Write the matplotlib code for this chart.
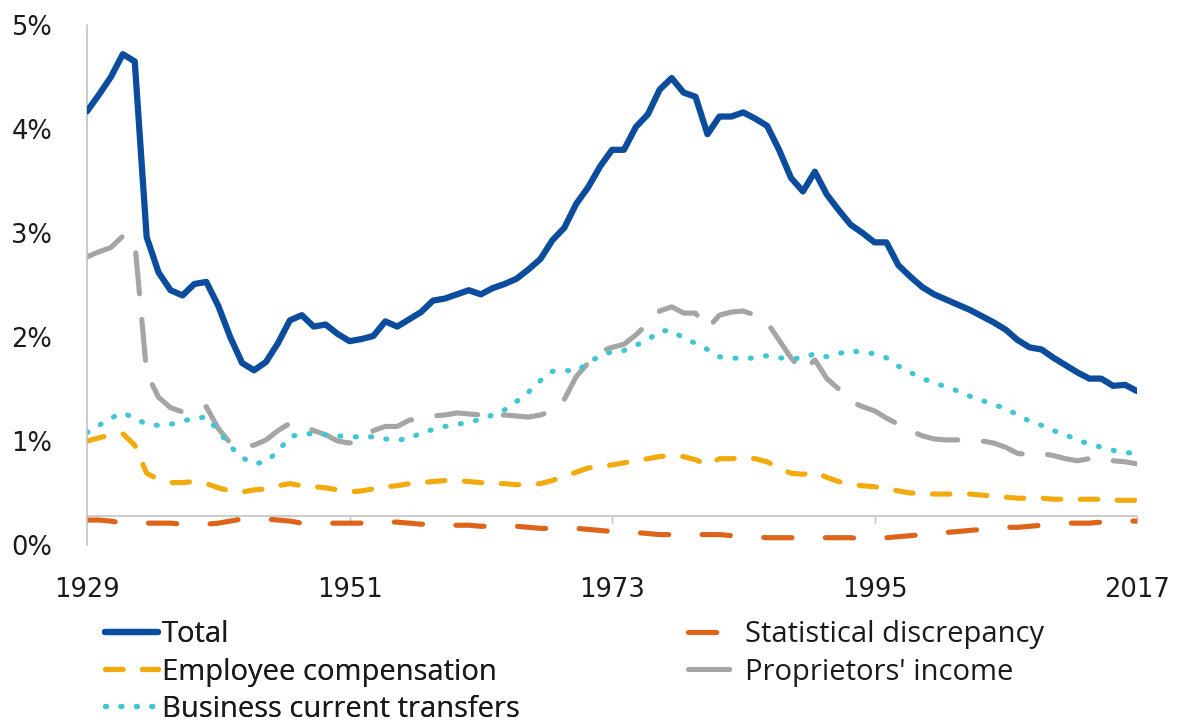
import matplotlib
matplotlib.use('Agg')
import matplotlib.pyplot as plt
from matplotlib.ticker import FuncFormatter

years = list(range(1929, 2018))

total = [4.17, 4.33, 4.50, 4.72, 4.65, 2.96, 2.62, 2.45, 2.40, 2.51,
         2.53, 2.30, 2.00, 1.75, 1.68, 1.76, 1.94, 2.16, 2.21, 2.10,
         2.12, 2.03, 1.96, 1.98, 2.01, 2.15, 2.10, 2.17, 2.24, 2.35,
         2.37, 2.41, 2.45, 2.41, 2.47, 2.51, 2.56, 2.65, 2.75, 2.93,
         3.05, 3.28, 3.44, 3.64, 3.80, 3.80, 4.02, 4.14, 4.38, 4.49,
         4.35, 4.31, 3.95, 4.12, 4.12, 4.16, 4.10, 4.03, 3.80, 3.53,
         3.40, 3.59, 3.37, 3.22, 3.08, 3.00, 2.91, 2.91, 2.69, 2.58,
         2.48, 2.41, 2.36, 2.31, 2.26, 2.20, 2.14, 2.07, 1.97, 1.90,
         1.88, 1.80, 1.73, 1.66, 1.60, 1.60, 1.53, 1.54, 1.48]

stat_disc = [0.24, 0.24, 0.23, 0.21, 0.21, 0.21, 0.21, 0.21, 0.20, 0.20,
             0.20, 0.21, 0.23, 0.25, 0.25, 0.25, 0.24, 0.23, 0.21, 0.21,
             0.21, 0.21, 0.21, 0.21, 0.21, 0.22, 0.22, 0.21, 0.20, 0.20,
             0.19, 0.19, 0.19, 0.18, 0.18, 0.18, 0.18, 0.17, 0.16, 0.16,
             0.16, 0.16, 0.15, 0.14, 0.13, 0.12, 0.12, 0.11, 0.10, 0.10,
             0.10, 0.10, 0.10, 0.10, 0.09, 0.08, 0.08, 0.07, 0.07, 0.07,
             0.07, 0.07, 0.07, 0.07, 0.07, 0.06, 0.06, 0.07, 0.08, 0.09,
             0.10, 0.11, 0.12, 0.13, 0.14, 0.15, 0.16, 0.17, 0.17, 0.18,
             0.19, 0.20, 0.21, 0.21, 0.21, 0.22, 0.22, 0.23, 0.23]

employee = [1.00, 1.03, 1.06, 1.07, 0.96, 0.69, 0.63, 0.60, 0.60, 0.61,
            0.59, 0.55, 0.52, 0.51, 0.53, 0.54, 0.57, 0.59, 0.57, 0.56,
            0.55, 0.53, 0.51, 0.52, 0.54, 0.56, 0.57, 0.59, 0.60, 0.61,
            0.62, 0.62, 0.61, 0.60, 0.59, 0.59, 0.58, 0.58, 0.59, 0.62,
            0.66, 0.70, 0.74, 0.76, 0.77, 0.79, 0.81, 0.83, 0.85, 0.86,
            0.85, 0.82, 0.77, 0.83, 0.83, 0.84, 0.83, 0.80, 0.74, 0.69,
            0.68, 0.70, 0.65, 0.61, 0.58, 0.57, 0.56, 0.54, 0.52, 0.50,
            0.50, 0.49, 0.49, 0.49, 0.49, 0.48, 0.47, 0.46, 0.45, 0.45,
            0.45, 0.44, 0.44, 0.44, 0.44, 0.44, 0.43, 0.43, 0.43]

proprietors = [2.77, 2.82, 2.86, 2.97, 2.92, 1.65, 1.42, 1.32, 1.28, 1.32,
               1.33, 1.12, 0.98, 0.95, 0.96, 1.01, 1.10, 1.17, 1.15, 1.10,
               1.06, 1.00, 0.98, 1.02, 1.10, 1.14, 1.14, 1.20, 1.22, 1.24,
               1.25, 1.27, 1.26, 1.25, 1.24, 1.25, 1.24, 1.23, 1.25, 1.29,
               1.40, 1.62, 1.75, 1.86, 1.90, 1.93, 2.02, 2.13, 2.25, 2.29,
               2.23, 2.23, 2.08, 2.21, 2.24, 2.25, 2.21, 2.14, 1.97, 1.80,
               1.67, 1.78, 1.60, 1.50, 1.38, 1.33, 1.29, 1.22, 1.16, 1.10,
               1.05, 1.02, 1.01, 1.01, 1.01, 1.00, 0.98, 0.94, 0.88, 0.87,
               0.88, 0.86, 0.83, 0.81, 0.83, 0.84, 0.81, 0.80, 0.78]

business = [1.08, 1.15, 1.22, 1.27, 1.22, 1.16, 1.15, 1.16, 1.19, 1.22,
            1.23, 1.10, 0.95, 0.84, 0.78, 0.80, 0.90, 1.04, 1.07, 1.07,
            1.06, 1.05, 1.04, 1.04, 1.04, 1.02, 1.01, 1.02, 1.08, 1.11,
            1.14, 1.16, 1.18, 1.21, 1.25, 1.30, 1.38, 1.47, 1.58, 1.67,
            1.68, 1.67, 1.75, 1.82, 1.86, 1.87, 1.92, 1.97, 2.06, 2.06,
            1.99, 1.94, 1.88, 1.81, 1.80, 1.79, 1.80, 1.82, 1.80, 1.79,
            1.80, 1.84, 1.81, 1.84, 1.87, 1.85, 1.84, 1.80, 1.72, 1.66,
            1.60, 1.56, 1.52, 1.48, 1.43, 1.39, 1.35, 1.31, 1.25, 1.19,
            1.15, 1.10, 1.06, 1.01, 0.97, 0.94, 0.91, 0.89, 0.88]

xticks = [1929, 1951, 1973, 1995, 2017]
yticks = [0, 1, 2, 3, 4, 5]

fig = plt.figure(figsize=(11.79, 7.23), dpi=100)
ax = fig.add_axes([0.0738, 0.2462, 0.8906, 0.7192])

l_total, = ax.plot(years, total, color='#0b4c9c', lw=4.5, solid_capstyle='round',
                   solid_joinstyle='round', label='Total', zorder=5)
l_stat, = ax.plot(years, stat_disc, color='#dd6419', lw=3.7, dashes=(5.5, 6.5),
                  dash_capstyle='round', label='Statistical discrepancy')
l_emp, = ax.plot(years, employee, color='#f2aa0c', lw=3.7, dashes=(3.4, 3.8),
                 dash_capstyle='round', label='Employee compensation')
l_prop, = ax.plot(years, proprietors, color='#a5a5a5', lw=3.7, dashes=(8, 5),
                  dash_capstyle='round', label="Proprietors' income")
l_bus, = ax.plot(years, business, color='#3ec7d2', lw=3.7, dashes=(0.2, 2.8),
                 dash_capstyle='round', label='Business current transfers')

ax.set_xlim(1929, 2017)
ax.set_ylim(0, 5)
ax.set_xticks(xticks)
ax.set_yticks(yticks)
ax.yaxis.set_major_formatter(FuncFormatter(lambda v, p: '%d%%' % v))

for s in ['top', 'right']:
    ax.spines[s].set_visible(False)
ax.spines['left'].set_color('#bfbfbf')
ax.spines['left'].set_linewidth(1.1)
ax.spines['bottom'].set_color('#bfbfbf')
ax.spines['bottom'].set_linewidth(1.1)
ax.spines['bottom'].set_position(('data', 0.28))

ax.tick_params(axis='y', length=0, pad=25, labelsize=18.5, labelcolor='#1a1a1a')
ax.tick_params(axis='x', length=5, width=1.0, color='#bfbfbf', pad=39,
               labelsize=18.5, labelcolor='#1a1a1a')

leg_font = {'family': 'Open Sans', 'size': 21}
leg1 = fig.legend(handles=[l_total, l_emp, l_bus], loc='upper left',
                  bbox_to_anchor=(105 / 1179, 0.142), frameon=False,
                  prop=leg_font, handlelength=1.8, handletextpad=0.15,
                  labelspacing=0.28, borderpad=0, borderaxespad=0)
leg2 = fig.legend(handles=[l_stat, l_prop], loc='upper left',
                  bbox_to_anchor=(688 / 1179, 0.142), frameon=False,
                  prop=leg_font, handlelength=1.8, handletextpad=0.15,
                  labelspacing=0.28, borderpad=0, borderaxespad=0)
for leg in (leg1, leg2):
    for t in leg.get_texts():
        t.set_color('#1a1a1a')
fig.add_artist(leg1)

fig.savefig('out.png', dpi=100)
